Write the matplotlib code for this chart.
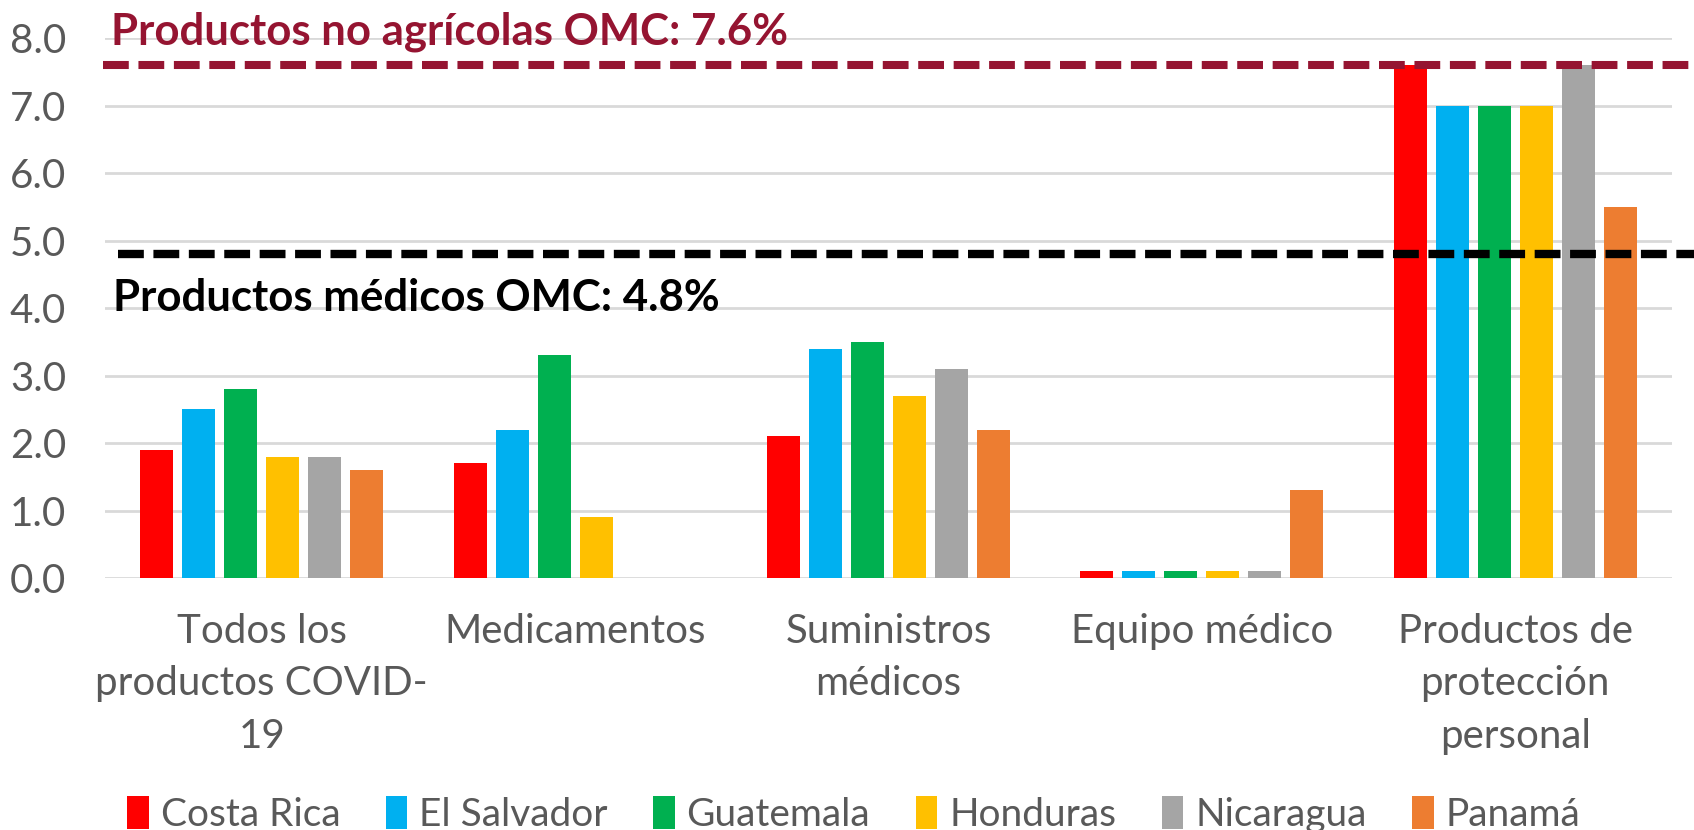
import matplotlib.pyplot as plt
import numpy as np

# datos (aranceles promedio, %)
categorias = ["Todos los\nproductos COVID-\n19", "Medicamentos", "Suministros\nmédicos",
              "Equipo médico", "Productos de\nprotección\npersonal"]
paises = ["Costa Rica", "El Salvador", "Guatemala", "Honduras", "Nicaragua", "Panamá"]
costa_rica = [1.9, 1.7, 2.1, 0.1, 7.6]
el_salvador = [2.5, 2.2, 3.4, 0.1, 7.0]
guatemala = [2.8, 3.3, 3.5, 0.1, 7.0]
honduras = [1.8, 0.9, 2.7, 0.1, 7.0]
nicaragua = [1.8, 0.0, 3.1, 0.1, 7.6]
panama = [1.6, 0.0, 2.2, 1.3, 5.5]
omc_no_agricolas = 7.6
omc_medicos = 4.8
yticks = [0, 1, 2, 3, 4, 5, 6, 7, 8]

colores = ["#FF0000", "#00B0F0", "#00B050", "#FFC000", "#A5A5A5", "#ED7D31"]
series = [costa_rica, el_salvador, guatemala, honduras, nicaragua, panama]

plt.rcParams['font.family'] = ['Lato', 'DejaVu Sans']
gris = "#595959"

fig = plt.figure(figsize=(16.94, 8.3), dpi=100)
ax = fig.add_axes([0.062, 0.3036, 0.925, 0.6505])

x = np.arange(len(categorias))
ancho = 0.105
paso = 0.134
for i, (vals, col, nom) in enumerate(zip(series, colores, paises)):
    ax.bar(x + (i - 2.5) * paso, vals, ancho, color=col, label=nom, zorder=3)

ax.set_xlim(-0.5, len(categorias) - 0.5)
ax.set_ylim(0, 8)
ax.set_yticks(yticks)
ax.set_yticklabels([f"{v:.1f}" for v in yticks])
ax.set_xticks(x)
ax.set_xticklabels(categorias, linespacing=1.52)
ax.tick_params(axis='y', length=0, pad=28, labelsize=29, labelcolor=gris)
ax.tick_params(axis='x', length=0, pad=25, labelsize=29, labelcolor=gris)
ax.grid(axis='y', color="#D9D9D9", linewidth=2, zorder=0)
for s in ax.spines.values():
    s.set_visible(False)

# lineas de referencia OMC
ax.plot([-0.001, 1.014], [omc_no_agricolas] * 2, color="#951431", lw=5.8,
        dashes=(3.2, 1.2), transform=ax.get_yaxis_transform(), clip_on=False, zorder=4)
ax.plot([0.008, 1.014], [omc_medicos] * 2, color="black", lw=6,
        dashes=(3.1, 1.15), transform=ax.get_yaxis_transform(), clip_on=False, zorder=4)
ax.text(0.004, 7.9, f"Productos no agrícolas OMC: {omc_no_agricolas}%", color="#951431",
        fontsize=31.5, fontweight='bold', transform=ax.get_yaxis_transform(),
        va='baseline', ha='left', clip_on=False)
ax.text(0.005, 3.96, f"Productos médicos OMC: {omc_medicos}%", color="black",
        fontsize=31.5, fontweight='bold', transform=ax.get_yaxis_transform(),
        va='baseline', ha='left')

leg = fig.legend(loc='center', bbox_to_anchor=(0.504, 0.019), ncol=6, frameon=False,
                 fontsize=28, handlelength=0.55, handleheight=0.95, handletextpad=0.3,
                 columnspacing=1.18)
for t in leg.get_texts():
    t.set_color(gris)

fig.savefig("out.png", dpi=100)
